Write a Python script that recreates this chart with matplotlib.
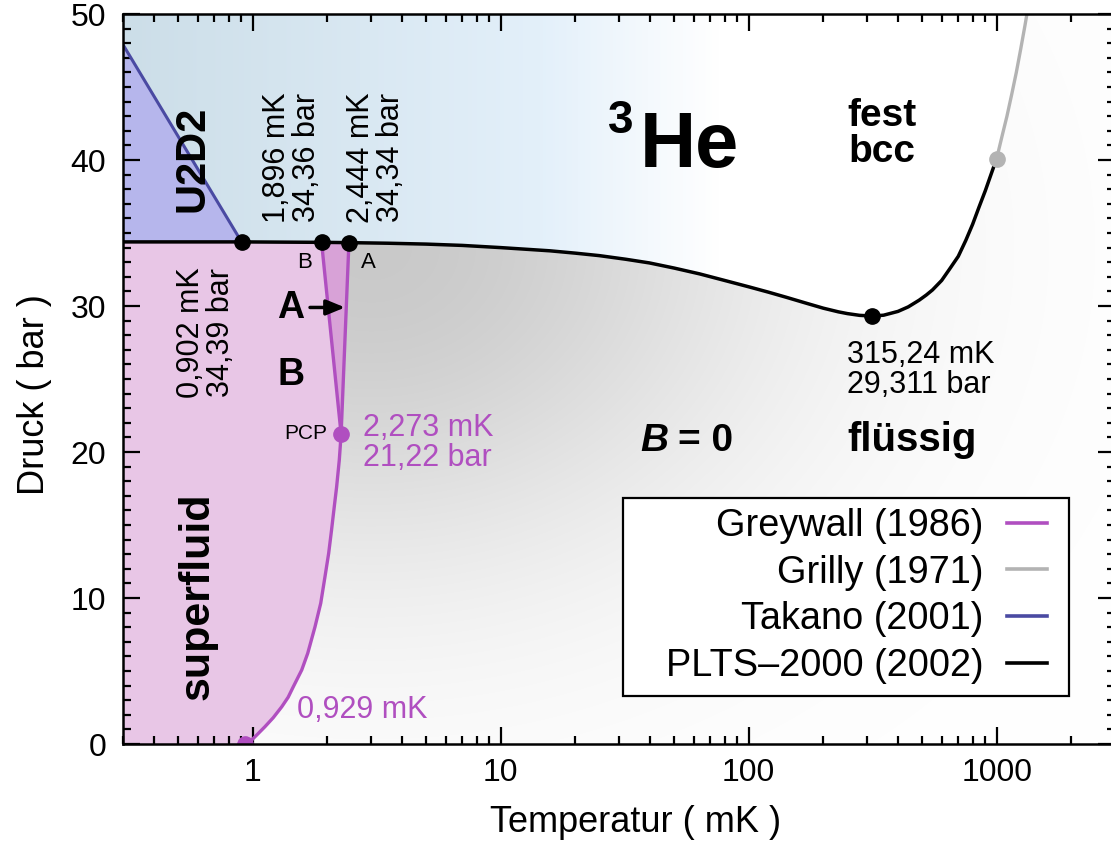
import numpy as np
import matplotlib
matplotlib.use('Agg')
import matplotlib.pyplot as plt
from matplotlib.patches import Polygon, Rectangle
from matplotlib.ticker import FixedLocator, LogLocator, MultipleLocator, NullFormatter

plt.rcParams['font.family'] = ['Liberation Sans', 'DejaVu Sans']

# T in mK, P in bar
# melting curve (PLTS-2000)
melt_T = [0.3, 0.902, 1.896, 2.444, 3.5, 5.0, 7.0, 10.0, 15.8, 20.0, 25.0, 32.0, 39.8,
          50.0, 63.4, 80.0, 100.8, 120.0, 141.6, 170.0, 200.0, 230.0, 250.0, 280.0,
          315.24, 350.0, 400.0, 440.0, 487.0, 520.0, 551.0, 600.0, 644.0, 700.0, 751.0,
          800.0, 850.0, 900.0, 962.0, 1000.0]
melt_P = [34.39, 34.39, 34.36, 34.34, 34.30, 34.24, 34.15, 34.0, 33.78, 33.62, 33.45, 33.2,
          32.95, 32.6, 32.2, 31.75, 31.3, 30.95, 30.6, 30.2, 29.85, 29.6, 29.48, 29.36,
          29.311, 29.37, 29.63, 29.94, 30.4, 30.75, 31.1, 31.75, 32.5, 33.4, 34.5,
          35.6, 36.8, 37.9, 39.3, 40.1]

# melting curve above 1 K (Grilly)
grilly_T = [1000.0, 1050.0, 1100.0, 1150.0, 1200.0, 1250.0, 1300.0, 1340.0]
grilly_P = [40.1, 41.6, 43.0, 44.5, 46.0, 47.6, 49.2, 50.5]

# U2D2 boundary (Takano)
takano_T = [0.3, 0.902]
takano_P = [47.9, 34.39]

# superfluid transition (Greywall), up to the PCP
tc_T = [0.929, 0.976, 1.039, 1.12, 1.21, 1.31, 1.39, 1.458, 1.577, 1.667, 1.784, 1.881,
        1.957, 2.025, 2.08, 2.133, 2.18, 2.235, 2.273]
tc_P = [0.0, 0.16, 0.62, 1.18, 1.8, 2.55, 3.2, 3.92, 5.07, 6.21, 8.03, 9.64,
        11.46, 13.06, 14.66, 16.25, 17.6, 19.45, 21.22]

# A-B line and normal-A line above the PCP
ab_T = [2.273, 1.896]
ab_P = [21.22, 34.36]
na_T = [2.273, 2.444]
na_P = [21.22, 34.34]

# marked points
black_pts_T = [0.902, 1.896, 2.444, 315.24]
black_pts_P = [34.39, 34.36, 34.34, 29.311]
purple_pts_T = [0.929, 2.273]
purple_pts_P = [0.0, 21.22]
gray_pts_T = [1000.0]
gray_pts_P = [40.1]

purple = '#b04fc0'
blue = '#4a4aa2'
gray = '#b3b3b3'

fig = plt.figure(figsize=(11.11, 8.43), dpi=100)
ax = fig.add_axes([123 / 1111, 99 / 843, 992 / 1111, 730 / 843])
ax.set_xscale('log')
ax.set_xlim(0.3, 3000)
ax.set_ylim(0, 50)

# background shadings
gx, gy = np.meshgrid(np.linspace(0, 1, 500), np.linspace(0, 1, 400))

stops = [0.0, 0.42, 0.6, 1.0]
solid_rgb = np.dstack([np.interp(gx, stops, [0.80, 0.89, 1.0, 1.0]),
                       np.interp(gx, stops, [0.87, 0.94, 1.0, 1.0]),
                       np.interp(gx, stops, [0.91, 0.98, 1.0, 1.0])])
d = np.hypot((gx - 0.25) * 992 / 1.25, (gy - 0.68) * 730)
g = 1 - 0.21 * np.exp(-(d / 320) ** 2)
liquid_rgb = np.dstack([g, g, g])

solid_poly = Polygon(np.column_stack([[0.3] + melt_T + grilly_T + [0.3],
                                      [34.39] + melt_P + grilly_P + [50.5]]),
                     closed=True, facecolor='none', edgecolor='none')
liquid_poly = Polygon(np.column_stack([[0.3] + melt_T + grilly_T + [3000, 3000, 0.3],
                                       [34.39] + melt_P + grilly_P + [50.5, 0, 0]]),
                      closed=True, facecolor='none', edgecolor='none')
ax.add_patch(solid_poly)
ax.add_patch(liquid_poly)
im1 = ax.imshow(solid_rgb, extent=(0, 1, 0, 1), transform=ax.transAxes, origin='lower',
                aspect='auto', zorder=0, interpolation='bilinear')
im1.set_clip_path(solid_poly)
im2 = ax.imshow(liquid_rgb, extent=(0, 1, 0, 1), transform=ax.transAxes, origin='lower',
                aspect='auto', zorder=0, interpolation='bilinear')
im2.set_clip_path(liquid_poly)

# phase regions
ax.fill(np.r_[[0.3], tc_T, [2.444, 1.896, 0.902, 0.3]],
        np.r_[[0.0], tc_P, [34.34, 34.36, 34.39, 34.39]],
        color='#e8c6e6', lw=0, zorder=1)
ax.fill([ab_T[0], ab_T[1], na_T[1]], [ab_P[0], ab_P[1], na_P[1]],
        color='#d8a2d7', lw=0, zorder=1)
ax.fill([takano_T[0], takano_T[1], takano_T[0]], [34.39, takano_P[1], takano_P[0]],
        color='#b6b6ec', lw=0, zorder=1)

# lines
l_grey, = ax.plot(tc_T, tc_P, color=purple, lw=2.4, zorder=3, label='Greywall (1986)',
                  solid_joinstyle='round')
ax.plot(ab_T, ab_P, color=purple, lw=2.4, zorder=3)
ax.plot(na_T, na_P, color=purple, lw=2.4, zorder=3)
l_grilly, = ax.plot(grilly_T, grilly_P, color=gray, lw=2.4, zorder=3, label='Grilly (1971)')
l_takano, = ax.plot(takano_T, takano_P, color=blue, lw=2.2, zorder=3, label='Takano (2001)')
l_plts, = ax.plot(melt_T, melt_P, color='black', lw=2.5, zorder=3, label='PLTS\u20132000 (2002)',
                  solid_joinstyle='round')

ax.plot(black_pts_T, black_pts_P, 'o', color='black', ms=11, zorder=4)
ax.plot(purple_pts_T, purple_pts_P, 'o', color=purple, ms=11, zorder=4)
ax.plot(gray_pts_T, gray_pts_P, 'o', color=gray, ms=11, zorder=4)

# labels
ax.text(27, 44.2, '3', fontsize=33, fontweight='bold', ha='left', va='top', zorder=5)
ax.text(36.4, 39.5, 'He', fontsize=56, fontweight='bold', ha='left', va='baseline', zorder=5)
ax.text(346, 41.8, 'fest\nbcc', fontsize=28, fontweight='bold', ha='center', va='center',
        linespacing=1.0, zorder=5)
ax.text(457, 20.8, 'flüssig', fontsize=29, fontweight='bold', ha='center', va='center', zorder=5)
ax.text(36.4, 20.75, 'B', fontsize=28, fontweight='bold', style='italic', ha='left',
        va='center', zorder=5)
ax.text(51.7, 20.75, '= 0', fontsize=28, fontweight='bold', ha='left', va='center', zorder=5)
ax.text(0.571, 40.1, 'U2D2', fontsize=30, fontweight='bold', rotation=90, ha='center',
        va='center', zorder=5)
ax.text(0.597, 10.1, 'superfluid', fontsize=31, fontweight='bold', rotation=90, ha='center',
        va='center', zorder=5)

ax.text(0.649, 23.7, '0,902 mK\n34,39 bar', fontsize=22, rotation=90, ha='center',
        va='bottom', linespacing=1.0, zorder=5)
ax.text(1.441, 35.7, '1,896 mK\n34,36 bar', fontsize=22, rotation=90, ha='center',
        va='bottom', linespacing=1.0, zorder=5)
ax.text(3.145, 35.7, '2,444 mK\n34,34 bar', fontsize=22, rotation=90, ha='center',
        va='bottom', linespacing=1.0, zorder=5)
ax.text(250, 27.7, '315,24 mK\n29,311 bar', fontsize=22, ha='left', va='top',
        linespacing=1.0, zorder=5)
ax.text(2.79, 22.7, '2,273 mK\n21,22 bar', fontsize=22, color=purple, ha='left', va='top',
        linespacing=1.0, zorder=5)
ax.text(1.51, 2.33, '0,929 mK', fontsize=22, color=purple, ha='left', va='center', zorder=5)

ax.text(1.625, 33.0, 'B', fontsize=16, ha='center', va='center', zorder=5)
ax.text(2.915, 33.0, 'A', fontsize=16, ha='center', va='center', zorder=5)
ax.text(2.0, 21.3, 'PCP', fontsize=15, ha='right', va='center', zorder=5)
ax.text(1.428, 29.86, 'A', fontsize=27, fontweight='bold', ha='center', va='center', zorder=5)
ax.text(1.433, 25.3, 'B', fontsize=27, fontweight='bold', ha='center', va='center', zorder=5)
ax.annotate('', xy=(2.356, 29.9), xytext=(1.703, 29.9),
            arrowprops=dict(arrowstyle='-|>,head_length=0.8,head_width=0.33', color='black',
                            lw=2.5, mutation_scale=14, shrinkA=0, shrinkB=0), zorder=5)

# axes
ax.xaxis.set_major_locator(FixedLocator([1, 10, 100, 1000]))
ax.set_xticklabels(['1', '10', '100', '1000'])
ax.xaxis.set_minor_locator(LogLocator(base=10, subs=np.arange(2, 10)))
ax.xaxis.set_minor_formatter(NullFormatter())
ax.yaxis.set_major_locator(MultipleLocator(10))
ax.yaxis.set_minor_locator(MultipleLocator(1))
ax.tick_params(which='both', direction='in', top=True, right=True, width=1.6, labelsize=23)
ax.tick_params(which='major', length=12)
ax.tick_params(which='minor', length=6)
ax.tick_params(axis='x', pad=10)
ax.tick_params(axis='y', pad=12)
for s in ax.spines.values():
    s.set_linewidth(1.8)
    s.set_zorder(6)

ax.set_xlabel('Temperatur ( mK )', fontsize=26)
ax.set_ylabel('Druck ( bar )', fontsize=26)
ax.xaxis.set_label_coords(0.517, -0.084)
ax.yaxis.set_label_coords(-0.072, 0.478)

# legend box drawn separately, entries right aligned inside it
ax.add_patch(Rectangle((0.504, 0.0658), 0.45, 0.271, transform=ax.transAxes,
                       facecolor='white', edgecolor='black', lw=1.6, zorder=7))
leg = ax.legend(handles=[l_grey, l_grilly, l_takano, l_plts], loc='center right',
                bbox_to_anchor=(0.9315, 0.2027), borderaxespad=0, borderpad=0,
                markerfirst=False, fontsize=27.3, frameon=False, handlelength=1.05,
                handletextpad=0.63, labelspacing=0.28)
leg.set_zorder(8)
for ln in leg.get_lines():
    ln.set_linewidth(2.6)

fig.savefig('out.png', dpi=100)
